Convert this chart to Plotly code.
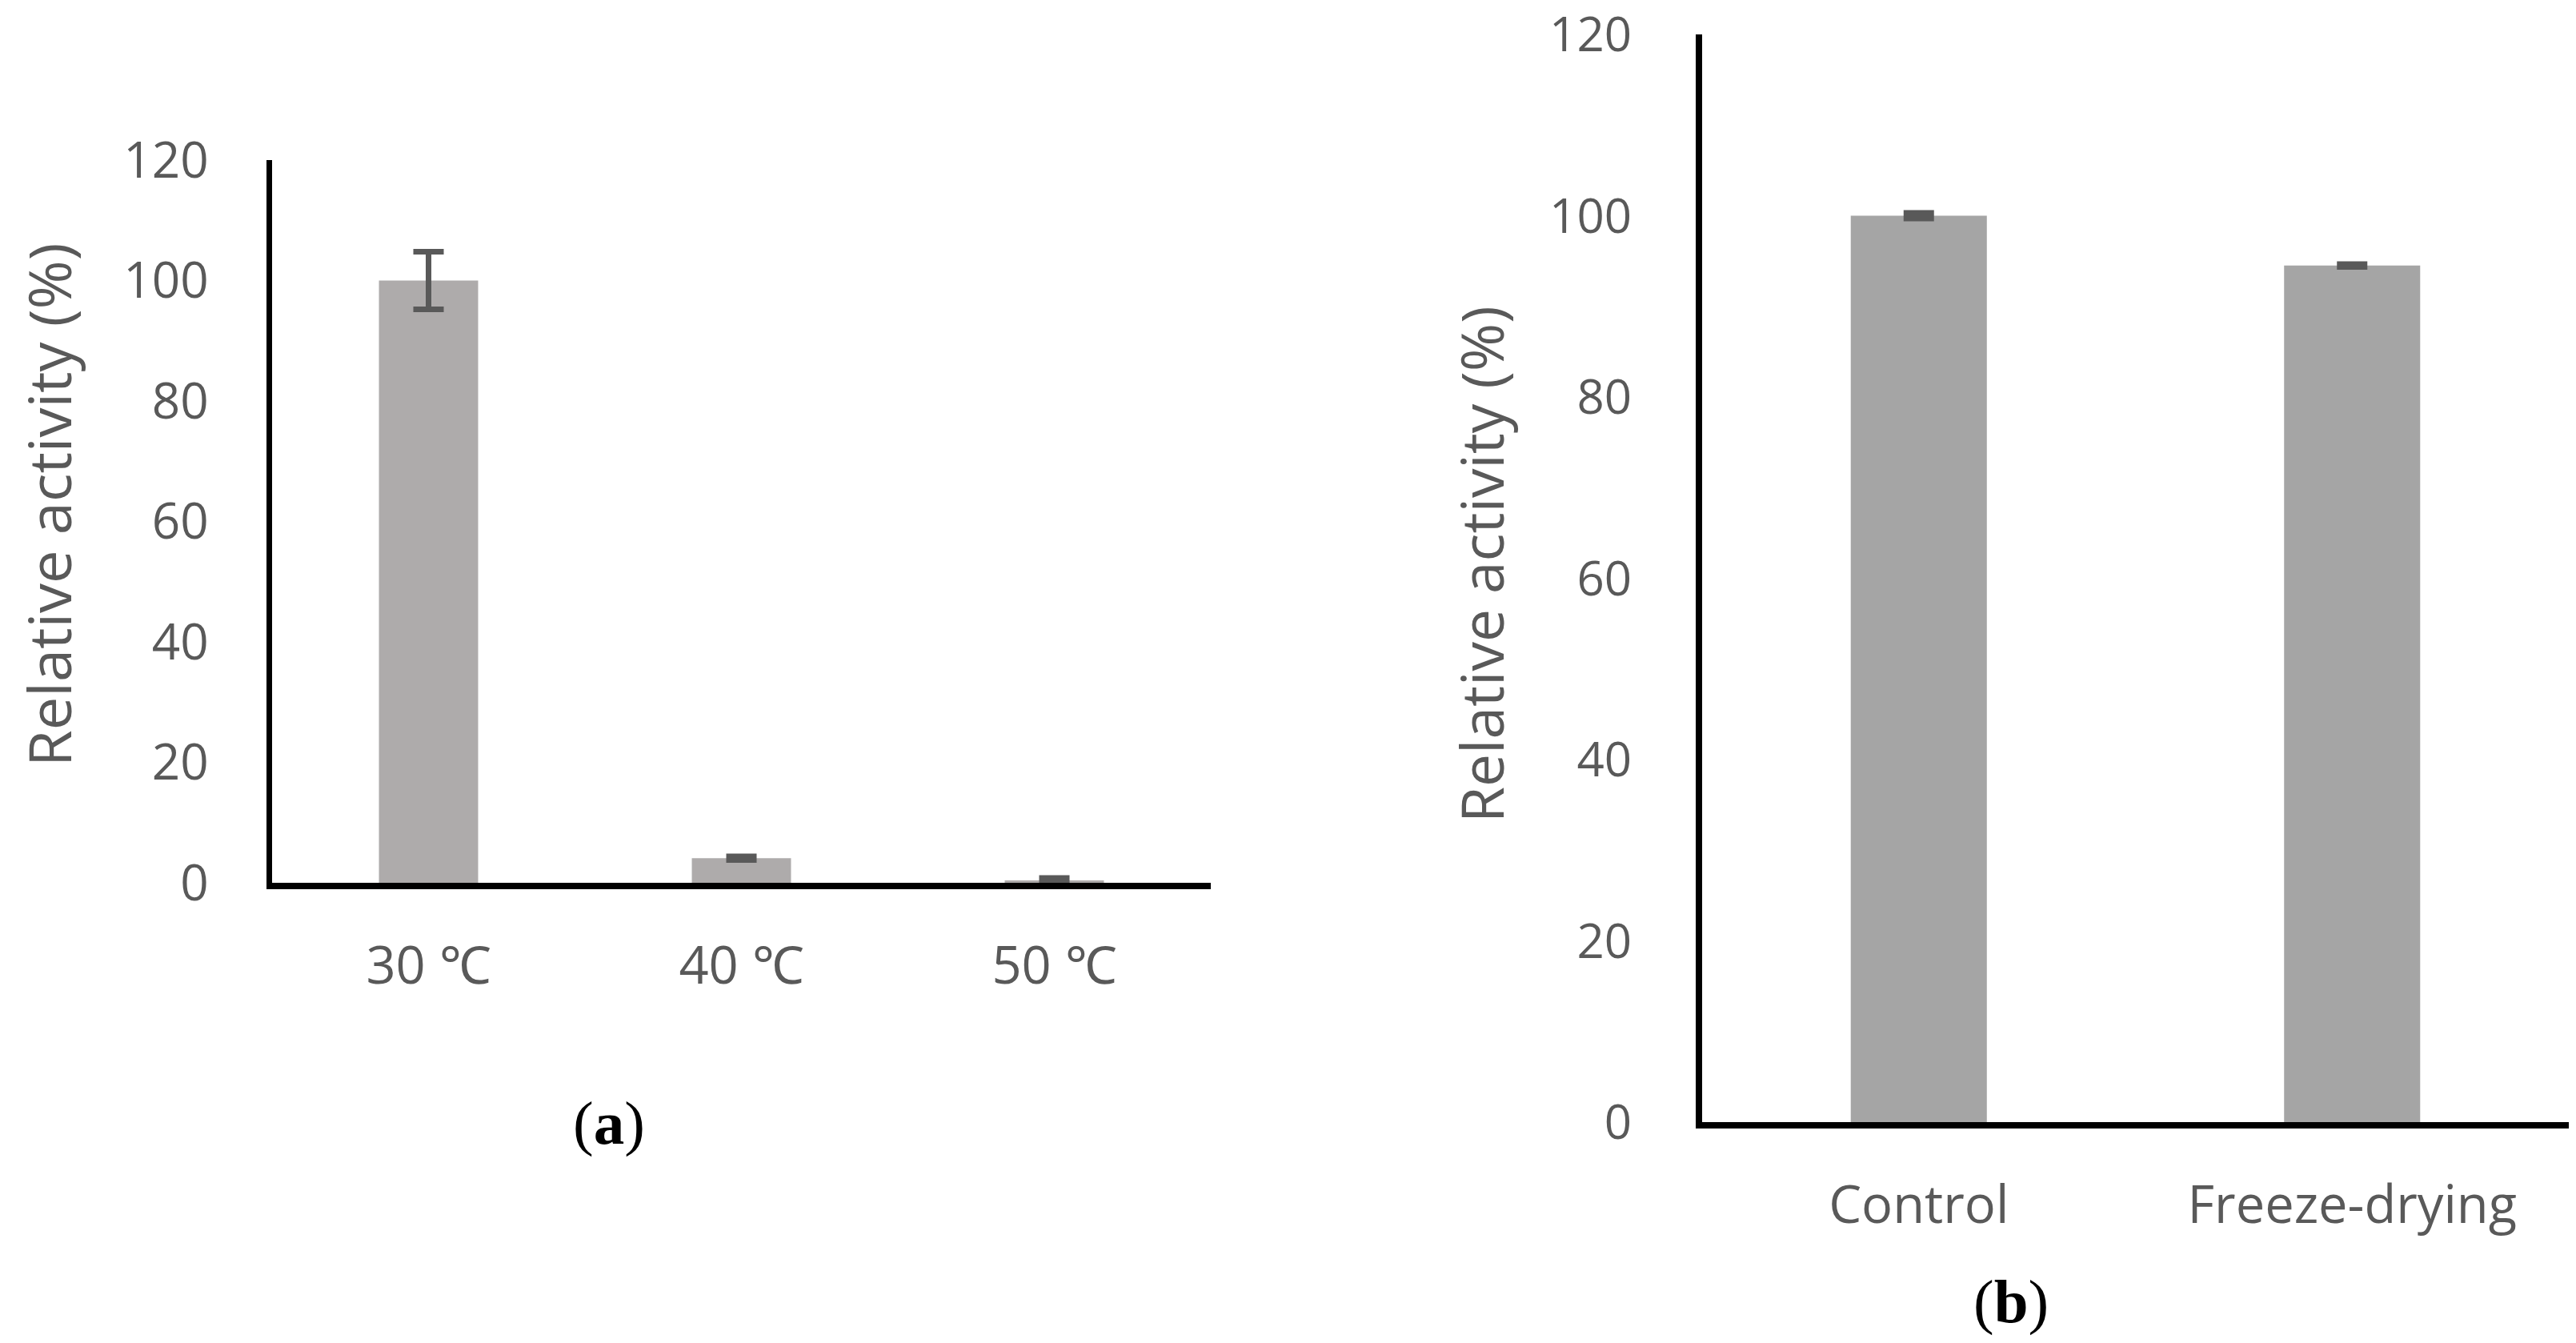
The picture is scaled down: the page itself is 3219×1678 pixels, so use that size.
import plotly.graph_objects as go

# panel (a): temperature
temps = ["30 ℃", "40 ℃", "50 ℃"]
temp_activity = [100.0, 4.1, 0.4]
temp_err = [4.8, 0.3, 0.4]

# panel (b): freeze-drying
treatments = ["Control", "Freeze-drying"]
treat_activity = [100.0, 94.5]
treat_err = [0.3, 0.15]

y_ticks = [0, 20, 40, 60, 80, 100, 120]

W, H = 3219, 1678
OFF = 7  # page margin of the browser, in px
GREY = "#595959"
FONT = "Open Sans, Segoe UI, sans-serif"
SERIF = "Liberation Serif, Times New Roman, serif"


def px_x(v):
    return (v - OFF) / W


def px_y(v):
    return 1 - (v - OFF) / H


fig = go.Figure()

fig.add_trace(go.Bar(
    x=temps, y=temp_activity,
    marker=dict(color="#AEABAB", line=dict(width=0)),
    width=0.317,
    error_y=dict(type="data", array=temp_err, visible=True,
                 color=GREY, thickness=7, width=19),
    xaxis="x", yaxis="y", showlegend=False,
))

fig.add_trace(go.Bar(
    x=treatments, y=treat_activity,
    marker=dict(color="#A5A5A5", line=dict(width=0)),
    width=0.314,
    error_y=dict(type="data", array=treat_err, visible=True,
                 color=GREY, thickness=7, width=19),
    xaxis="x2", yaxis="y2", showlegend=False,
))

axis_common = dict(automargin=False, ticklabeloverflow="allow",
                   showline=True, linecolor="black", showgrid=False, ticks="")

fig.update_layout(
    template="none",
    width=W, height=H,
    margin=dict(l=0, r=0, t=0, b=0, autoexpand=False),
    paper_bgcolor="white", plot_bgcolor="white",
    xaxis=dict(
        domain=[px_x(339), px_x(1512)], anchor="y", linewidth=8,
        ticklabelstandoff=40,
        tickfont=dict(family=FONT, size=65, color=GREY), **axis_common,
    ),
    yaxis=dict(
        domain=[px_y(1102), px_y(199)], anchor="x", linewidth=7,
        range=[0, 120], tickvals=y_ticks, zeroline=False,
        ticklabelstandoff=60,
        tickfont=dict(family=FONT, size=62, color=GREY), **axis_common,
    ),
    xaxis2=dict(
        domain=[px_x(2126), px_x(3209)], anchor="y2", linewidth=8,
        ticklabelstandoff=40,
        tickfont=dict(family=FONT, size=65, color=GREY), **axis_common,
    ),
    yaxis2=dict(
        domain=[px_y(1401), px_y(42)], anchor="x2", linewidth=8,
        range=[0, 120], tickvals=y_ticks, zeroline=False,
        ticklabelstandoff=68,
        tickfont=dict(family=FONT, size=60, color=GREY), **axis_common,
    ),
)

note = dict(xref="paper", yref="paper", xanchor="center", yanchor="middle",
            showarrow=False)

# y titles
fig.add_annotation(text="Relative activity (%)", x=px_x(59), y=px_y(630),
                   textangle=-90, font=dict(family=FONT, size=74, color=GREY),
                   **note)
fig.add_annotation(text="Relative activity (%)", x=px_x(1850), y=px_y(704),
                   textangle=-90, font=dict(family=FONT, size=73, color=GREY),
                   **note)

# panel letters
fig.add_annotation(text="(<b>a</b>)", x=px_x(760), y=px_y(1402),
                   font=dict(family=SERIF, size=77, color="black"), **note)
fig.add_annotation(text="(<b>b</b>)", x=px_x(2512), y=px_y(1625),
                   font=dict(family=SERIF, size=77, color="black"), **note)

fig.write_html("out.html")
